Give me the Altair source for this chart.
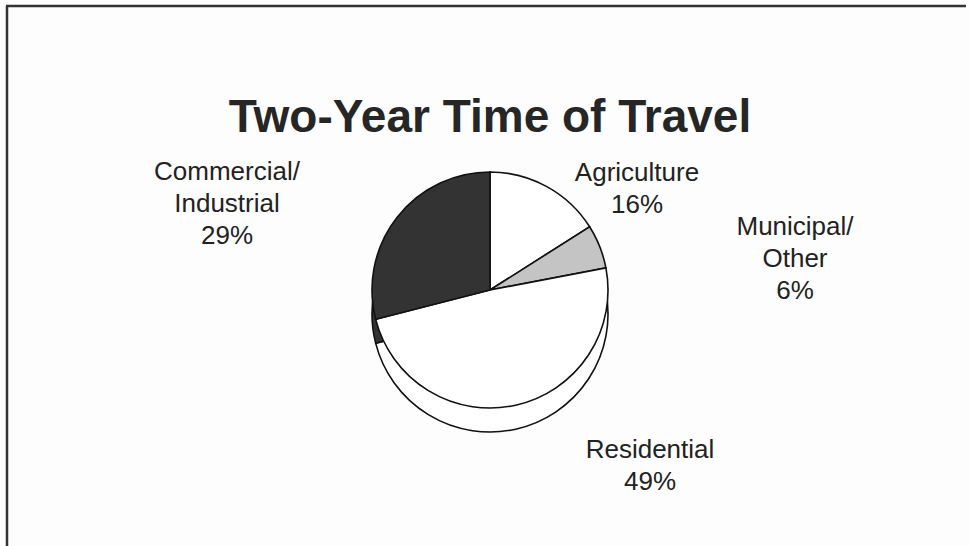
import altair as alt
import pandas as pd

# ---- data ----
categories = ["Agriculture", "Municipal/Other", "Residential", "Commercial/Industrial"]
values = [16, 6, 49, 29]
label_lines = ["Agriculture", "Municipal/\nOther", "Residential", "Commercial/\nIndustrial"]
title_text = "Two-Year Time of Travel"

# ---- styling ----
slice_colors = ["#ffffff", "#c4c4c4", "#ffffff", "#333333"]
FONT = "Liberation Sans"
W, H = 970, 546
CX, CY, R, DEPTH = 490, 290, 118, 24
label_pos = {  # (x, y) of the first line of each label
    "Agriculture": (637, 173),
    "Municipal/Other": (795, 227),
    "Residential": (650, 450),
    "Commercial/Industrial": (227, 172),
}

df = pd.DataFrame({
    "category": categories,
    "value": values,
    "order": list(range(len(categories))),
    "label": [f"{l}\n{v}%" for l, v in zip(label_lines, values)],
})

color = alt.Color("category:N", scale=alt.Scale(domain=categories, range=slice_colors), legend=None)

base = alt.Chart(df).encode(
    theta=alt.Theta("value:Q", stack=True),
    order=alt.Order("order:Q"),
    color=color,
)

side = base.mark_arc(outerRadius=R, stroke="#111111", strokeWidth=1.6).encode(
    x=alt.value(CX), y=alt.value(CY + DEPTH)
)
top = base.mark_arc(outerRadius=R, stroke="#111111", strokeWidth=1.6).encode(
    x=alt.value(CX), y=alt.value(CY)
)

layers = [side, top]

for cat in categories:
    x, y = label_pos[cat]
    layers.append(
        alt.Chart(df)
        .transform_filter(alt.datum.category == cat)
        .mark_text(font=FONT, fontSize=26, lineBreak="\n", lineHeight=32,
                   align="center", baseline="middle", color="#222222")
        .encode(text="label:N", x=alt.value(x), y=alt.value(y))
    )

title = (
    alt.Chart(pd.DataFrame({"t": [title_text]}))
    .mark_text(font=FONT, fontSize=46, fontWeight=900, align="center",
               baseline="middle", color="#262626")
    .encode(text="t:N", x=alt.value(490), y=alt.value(118))
)
layers.append(title)

frame_top = alt.Chart(pd.DataFrame({"a": [0]})).mark_rule(color="#333333", strokeWidth=2.5).encode(
    x=alt.value(6), x2=alt.value(966), y=alt.value(6)
)
frame_left = alt.Chart(pd.DataFrame({"a": [0]})).mark_rule(color="#333333", strokeWidth=2.5).encode(
    x=alt.value(7), y=alt.value(6), y2=alt.value(H)
)
layers += [frame_top, frame_left]

chart = (
    alt.layer(*layers)
    .properties(width=W, height=H, padding=0, autosize="none", background="#fdfdfd")
    .configure_view(stroke=None)
)

chart.save("out.html", embed_options={"renderer": "svg", "actions": False})
